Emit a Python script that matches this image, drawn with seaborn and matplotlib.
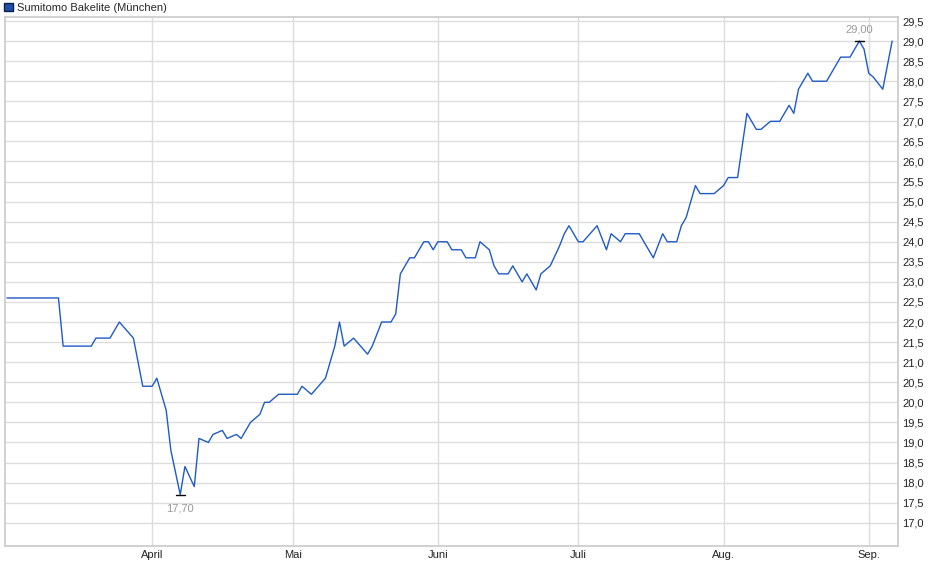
import matplotlib
matplotlib.use("Agg")
import matplotlib.pyplot as plt
import seaborn as sns
import pandas as pd
import numpy as np
from matplotlib.patches import Patch

dates = ["2024-03-01","2024-03-12","2024-03-13","2024-03-19","2024-03-20","2024-03-23","2024-03-25","2024-03-28",
 "2024-03-30","2024-04-01","2024-04-02","2024-04-04","2024-04-05","2024-04-07","2024-04-08","2024-04-10",
 "2024-04-11","2024-04-13","2024-04-14","2024-04-16","2024-04-17","2024-04-19","2024-04-20","2024-04-22",
 "2024-04-24","2024-04-25","2024-04-26","2024-04-28","2024-05-02","2024-05-03","2024-05-05","2024-05-08",
 "2024-05-10","2024-05-11","2024-05-12","2024-05-14","2024-05-17","2024-05-18","2024-05-20","2024-05-22",
 "2024-05-23","2024-05-24","2024-05-26","2024-05-27","2024-05-29","2024-05-30","2024-05-31","2024-06-01",
 "2024-06-03","2024-06-04","2024-06-06","2024-06-07","2024-06-09","2024-06-10","2024-06-12","2024-06-13",
 "2024-06-14","2024-06-16","2024-06-17","2024-06-19","2024-06-20","2024-06-22","2024-06-23","2024-06-25",
 "2024-06-27","2024-06-28","2024-06-29","2024-07-01","2024-07-02","2024-07-05","2024-07-07","2024-07-08",
 "2024-07-10","2024-07-11","2024-07-14","2024-07-15","2024-07-17","2024-07-19","2024-07-20","2024-07-22",
 "2024-07-23","2024-07-24","2024-07-26","2024-07-27","2024-07-30","2024-08-01","2024-08-02","2024-08-04",
 "2024-08-06","2024-08-08","2024-08-09","2024-08-11","2024-08-13","2024-08-15","2024-08-16","2024-08-17",
 "2024-08-19","2024-08-20","2024-08-23","2024-08-24","2024-08-26","2024-08-28","2024-08-30","2024-08-31",
 "2024-09-01","2024-09-02","2024-09-04","2024-09-06"]
prices = [22.6,22.6,21.4,21.4,21.6,21.6,22.0,21.6,
 20.4,20.4,20.6,19.8,18.8,17.7,18.4,17.9,
 19.1,19.0,19.2,19.3,19.1,19.2,19.1,19.5,
 19.7,20.0,20.0,20.2,20.2,20.4,20.2,20.6,
 21.4,22.0,21.4,21.6,21.2,21.4,22.0,22.0,
 22.2,23.2,23.6,23.6,24.0,24.0,23.8,24.0,
 24.0,23.8,23.8,23.6,23.6,24.0,23.8,23.4,
 23.2,23.2,23.4,23.0,23.2,22.8,23.2,23.4,
 23.9,24.2,24.4,24.0,24.0,24.4,23.8,24.2,
 24.0,24.2,24.2,24.0,23.6,24.2,24.0,24.0,
 24.4,24.6,25.4,25.2,25.2,25.4,25.6,25.6,
 27.2,26.8,26.8,27.0,27.0,27.4,27.2,27.8,
 28.2,28.0,28.0,28.2,28.6,28.6,29.0,28.8,
 28.2,28.1,27.8,29.0]
month_labels = ["April","Mai","Juni","Juli","Aug.","Sep."]
month_starts = ["2024-04-01","2024-05-01","2024-06-01","2024-07-01","2024-08-01","2024-09-01"]
series_name = "Sumitomo Bakelite (München)"

df = pd.DataFrame({"date": pd.to_datetime(dates), "price": prices})

sns.set_theme(style="white")
plt.rcParams['font.family'] = ['Liberation Sans', 'DejaVu Sans']
fig = plt.figure(figsize=(9.4, 5.79), dpi=100)
ax = fig.add_axes([5/940, 33/579, 893/940, 529/579])
sns.lineplot(data=df, x="date", y="price", ax=ax, color="#1f5bc4", linewidth=1.0, legend=False)

ax.set_xlim(pd.Timestamp("2024-02-29 14:00"), pd.Timestamp("2024-09-07 06:00"))
ax.set_ylim(16.42, 29.6)
ax.yaxis.tick_right()
yt = np.arange(17.0, 29.51, 0.5)
ax.set_yticks(yt)
ax.set_yticklabels([f"{v:.1f}".replace(".", ",") for v in yt], fontsize=8, color="#222222")
ax.set_xticks(pd.to_datetime(month_starts))
ax.set_xticklabels(month_labels, fontsize=8, color="#222222")
ax.tick_params(axis="both", length=0, pad=3)
ax.grid(True, color="#dddddd", linewidth=1)
for s in ax.spines.values():
    s.set_color("#cccccc")
ax.set_xlabel(""); ax.set_ylabel("")

imin = int(np.argmin(prices)); imax = int(np.argmax(prices))
for i, off in [(imin, -10), (imax, 8)]:
    d = df["date"][i]; v = prices[i]
    ax.plot([d - pd.Timedelta(days=1), d + pd.Timedelta(days=1)], [v, v], color="black", lw=1)
    ax.annotate(f"{v:.2f}".replace(".", ","), (d, v), xytext=(0, off), textcoords="offset points",
                ha="center", va="center", fontsize=8, color="#999999")

ax.legend(handles=[Patch(facecolor="#1f4fa8", edgecolor="#0a1f50")], labels=[series_name],
          loc="upper left", bbox_to_anchor=(-0.006, 1.035), frameon=False, fontsize=8,
          handlelength=0.8, handleheight=0.8, handletextpad=0.4, borderaxespad=0)

fig.savefig("out.png", dpi=100)
